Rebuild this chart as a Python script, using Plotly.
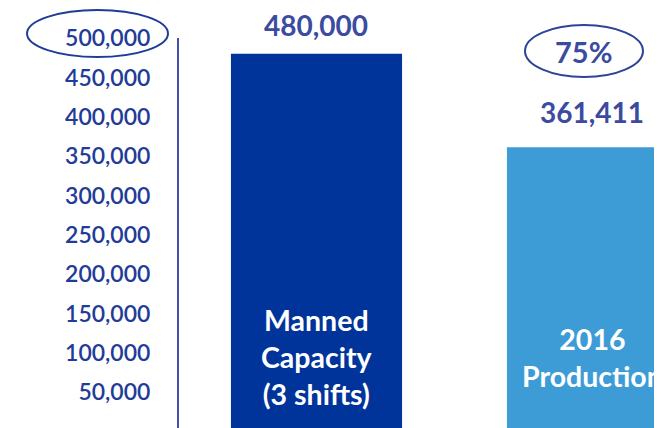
import plotly.graph_objects as go

categories = ["Manned Capacity (3 shifts)", "2016 Production"]
bar_labels = ["Manned<br>Capacity<br>(3 shifts)", "2016<br>Production"]
values = [480000, 361411]
bar_colors = ["#00349A", "#3D9CD6"]
tick_values = [50000, 100000, 150000, 200000, 250000, 300000, 350000, 400000, 450000, 500000]
tick_text = ["{:,}".format(v) for v in tick_values]
utilisation = round(values[1] / values[0] * 100)

FONT = "Lato"
TICK_COLOR = "#1F3C98"
VAL_COLOR = "#3B4B9F"

fig = go.Figure()
fig.add_trace(go.Bar(
    x=categories, y=values, marker=dict(color=bar_colors, line=dict(width=0)),
    width=0.62, hoverinfo="skip", showlegend=False,
))

label_shift = [10, 16]
annotations = []
for i, (v, lab) in enumerate(zip(values, bar_labels)):
    annotations.append(dict(
        x=i, y=v, xref="x", yref="y", text="<b>{:,}</b>".format(v), showarrow=False,
        yanchor="bottom", yshift=label_shift[i], xshift=-1,
        font=dict(family=FONT, size=28, color=VAL_COLOR),
    ))
    annotations.append(dict(
        x=i, y=94500, xref="x", yref="y", text="<b>" + lab + "</b>", showarrow=False,
        yanchor="middle", font=dict(family=FONT, size=28.5, color="white"),
    ))
annotations.append(dict(
    x=1, y=values[0], xref="x", yref="y", text="<b>{}%</b>".format(utilisation), showarrow=False,
    yanchor="middle", xshift=-9, yshift=2,
    font=dict(family=FONT, size=29, color=VAL_COLOR),
))

shapes = [
    dict(type="circle", xref="paper", yref="paper", xsizemode="pixel", ysizemode="pixel",
         xanchor=0, x0=-152, x1=-11, yanchor=1, y0=-19, y1=28,
         line=dict(color="#1F3C98", width=2)),
    dict(type="circle", xref="paper", yref="paper", xsizemode="pixel", ysizemode="pixel",
         xanchor=0, x0=346, x1=464, yanchor=1, y0=-39, y1=13,
         line=dict(color="#2E4497", width=2)),
]

fig.update_layout(
    width=670, height=436,
    margin=dict(l=171, r=0, t=30, b=0, pad=0),
    paper_bgcolor="white", plot_bgcolor="white",
    annotations=annotations, shapes=shapes,
    xaxis=dict(range=[-0.4982, 1.3098], showticklabels=False, showgrid=False,
               zeroline=False, showline=False, fixedrange=True),
    yaxis=dict(range=[-15490, 500100], tickvals=tick_values, ticktext=tick_text,
               showgrid=False, zeroline=False, showline=True, linecolor="#3F51A8",
               linewidth=2, ticks="", ticklabelstandoff=22,
               tickfont=dict(family=FONT, size=23, color=TICK_COLOR, weight=600)),
)

fig.write_html("out.html")
